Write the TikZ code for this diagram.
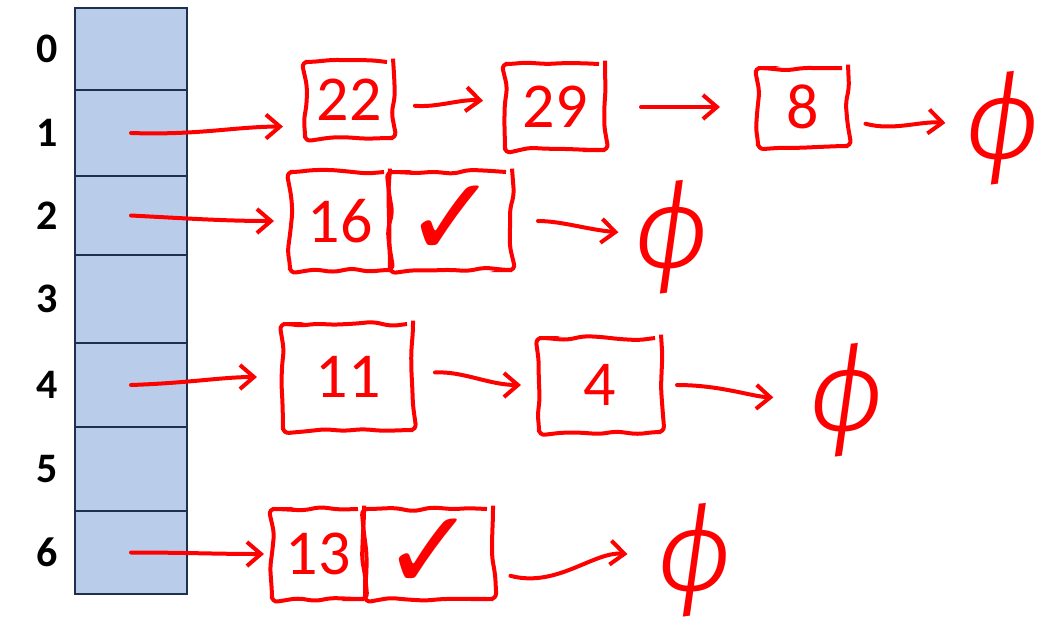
\documentclass[tikz,border=0pt]{standalone}
\usepackage{fontspec}
\setmainfont{Carlito}
\newfontfamily\symfont{DejaVu Sans}
\newfontfamily\nilfont[UprightFont={* Light},ItalicFont={* Light Italic}]{Fira Sans}
\usetikzlibrary{arrows.meta,decorations.pathmorphing}
\definecolor{cellblue}{HTML}{B9CDEA}
\definecolor{celledge}{HTML}{1F2F4F}
\definecolor{pen}{HTML}{FF0000}
\tikzset{
  cell/.style={draw=celledge,fill=cellblue,line width=1pt,minimum width=56pt,inner sep=0pt},
  idx/.style={font=\bfseries\fontsize{21}{21}\selectfont},
  hand/.style={draw=pen,text=pen,line width=2pt,inner sep=0pt,
    decorate,decoration={random steps,segment length=9pt,amplitude=1.2pt},rounded corners=3pt,
    font=\fontsize{32}{32}\selectfont},
  tick/.style={hand,font=\symfont\fontsize{56}{56}\selectfont},
  nil/.style={text=pen,inner sep=0pt,font=\nilfont\itshape\fontsize{60}{60}\selectfont},
  link/.style={draw=pen,line width=2pt,line cap=round,-{Straight Barb[length=7pt,width=12pt]},shorten >=10pt},
  next/.style={link,shorten <=10pt},
}
\begin{document}
\begin{tikzpicture}[x=0.5pt,y=-0.5pt]
  \useasboundingbox (0,0) rectangle (1053,633);
  % hash table
  \foreach \i/\t/\b in {0/8/90,1/90/176,2/176/255,3/255/343,4/343/427,5/427/511,6/511/594}{
    \node[cell,minimum height={(\b-\t)*0.5pt}] (c\i) at (131,{(\t+\b)/2}) {};
    \node[idx] (l\i) at (47,{(\t+\b)/2}) {\i};
  }
  % chain of slot 1
  \node[hand,minimum width=44pt,minimum height=38pt] (b22) at (349,100) {22};
  \node[hand,minimum width=50pt,minimum height=43pt] (b29) at (555,107) {29};
  \node[hand,minimum width=45pt,minimum height=39pt] (b8) at (803,107) {8};
  \node[nil] (nil1) at (1003,128) {ϕ};
  % chain of slot 2
  \node[hand,minimum width=50pt,minimum height=49pt] (k16) at (340,221) {16};
  \node[tick,minimum width=61pt,minimum height=49pt] (v16) at (451,221) {✓};
  \node[nil] (nil2) at (672,237) {ϕ};
  % chain of slot 4
  \node[hand,minimum width=65pt,minimum height=53pt] (b11) at (348,377) {11};
  \node[hand,minimum width=61pt,minimum height=47pt] (b4) at (600,385) {4};
  \node[nil] (nil4) at (847,400) {ϕ};
  % chain of slot 6
  \node[hand,minimum width=46pt,minimum height=45pt] (k13) at (318,554) {13};
  \node[tick,minimum width=64pt,minimum height=45pt] (v13) at (429,554) {✓};
  \node[nil] (nil6) at (695,560) {ϕ};
  % pointers
  \draw[link,shorten >=10pt] (c1.center) to[out=-2,in=180] (b22.210);
  \draw[next] (b22) to[out=-5,in=175] (b29);
  \draw[next,shorten <=17pt,shorten >=18pt] (b29) to[out=0,in=180] (b8);
  \draw[next,shorten <=8pt] (b8) to[out=-15,in=175] (nil1);
  \draw[link,shorten >=7pt] (c2.center) to[out=-3,in=180] (k16);
  \draw[next,shorten <=12pt,shorten >=8pt] (v16) to[out=0,in=175] (nil2);
  \draw[link,shorten >=12pt] (c4.center) to[out=2,in=180] (b11);
  \draw[next,shorten >=8pt] (b11) to[out=3,in=180] (b4);
  \draw[next,shorten <=7pt,shorten >=18pt] (b4) to[out=0,in=178] (nil4);
  \draw[link,shorten >=3pt] (c6.center) to[out=0,in=180] (k13);
  \draw[next,shorten <=8pt,shorten >=15pt] (v13) to[out=-15,in=175] (nil6);
\end{tikzpicture}
\end{document}
